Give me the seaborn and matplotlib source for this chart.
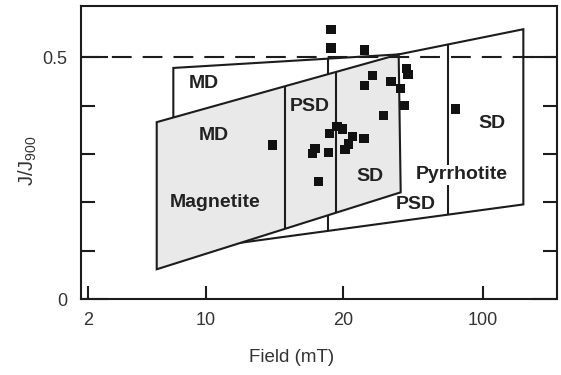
import numpy as np
import pandas as pd
import matplotlib
matplotlib.use("Agg")
import matplotlib.pyplot as plt
from matplotlib.patches import Polygon
import seaborn as sns

# ---------------- data ----------------
field_mT = [18.83, 18.83, 25.63, 41.52, 42.34, 28.17, 25.63, 34.79, 38.74, 40.53,
            31.91, 19.41, 19.97, 18.67, 22.37, 25.48, 21.26, 20.47, 17.36, 17.12,
            18.61, 17.68, 73.40, 14.02]
j_ratio = [0.557, 0.519, 0.515, 0.477, 0.465, 0.463, 0.441, 0.450, 0.436, 0.401,
           0.379, 0.357, 0.352, 0.342, 0.337, 0.333, 0.321, 0.310, 0.312, 0.302,
           0.304, 0.243, 0.393, 0.319]

# Magnetite domain field (grey quadrilateral) and its MD|PSD, PSD|SD boundaries
mag_field = [5.125, 5.125, 38.0, 38.9]
mag_j = [0.062, 0.366, 0.506, 0.221]
mag_div_field = [14.93, 19.26]
mag_div_j_top = [0.440, 0.469]
mag_div_j_bottom = [0.146, 0.1785]

# Pyrrhotite domain field and its MD|PSD, PSD|SD boundaries
pyr_field = [6.435, 38.0, 160.1, 160.1, 6.435]
pyr_j = [0.478, 0.506, 0.558, 0.196, 0.098]
pyr_div_field = [18.50, 66.78]
pyr_div_j_top = [0.497, 0.526]
pyr_div_j_bottom = [0.1415, 0.175]

region_text = ["MD", "MD", "PSD", "SD", "Magnetite", "SD", "Pyrrhotite", "PSD"]
region_field = [9.80, 10.44, 16.93, 111.2, 10.49, 27.31, 78.66, 46.44]
region_j = [0.446, 0.339, 0.399, 0.364, 0.200, 0.253, 0.257, 0.195]

x_ticks = [2, 10, 20, 100]
x_tick_labels = ["2", "10", "20", "100"]
y_ticks = [0, 0.5]
y_tick_labels = ["0", "0.5"]
y_minor_ticks = [0.1, 0.2, 0.3, 0.4]
j_limit = 0.5

# ---------------- non-uniform field axis of the reference ----------------
_LOG = np.array([-3.0, np.log10(2), 1.0, np.log10(20), 2.0, 4.0])
_POS = np.array([-554.9, 0.0, 117.5, 255.0, 394.5, 793.7])


def _fwd(x):
    x = np.asarray(x, dtype=float)
    with np.errstate(divide="ignore", invalid="ignore"):
        lx = np.log10(np.clip(x, 1e-3, None))
    return np.interp(lx, _LOG, _POS)


def _inv(p):
    return 10 ** np.interp(np.asarray(p, dtype=float), _POS, _LOG)


# ---------------- plot ----------------
sns.set_theme(style="white")
plt.rcParams["font.family"] = ["Liberation Sans", "DejaVu Sans"]

INK = "#1c1c1c"
fig = plt.figure(figsize=(5.61, 3.75), dpi=100)
ax = fig.add_axes([0.1444, 0.2019, 0.8485, 0.7821])
ax.set_xscale("function", functions=(_fwd, _inv))
ax.set_xlim(1.817, 236.1)
ax.set_ylim(0, 0.606)

# pyrrhotite field (underneath)
ax.add_patch(Polygon(np.column_stack([pyr_field, pyr_j]), closed=True,
                     facecolor="white", edgecolor=INK, lw=1.5, zorder=2,
                     joinstyle="miter"))
ax.vlines(pyr_div_field, pyr_div_j_bottom, pyr_div_j_top, colors=INK, lw=1.5, zorder=2.1)

# magnetite field (grey, on top)
ax.add_patch(Polygon(np.column_stack([mag_field, mag_j]), closed=True,
                     facecolor="#e9e9e9", edgecolor=INK, lw=1.5, zorder=3,
                     joinstyle="miter"))
ax.vlines(mag_div_field, mag_div_j_bottom, mag_div_j_top, colors=INK, lw=1.5, zorder=3.1)

# dashed reference line
ax.axhline(j_limit, color=INK, lw=1.5, dashes=(9.5, 5.3), zorder=4)

df = pd.DataFrame({"field": field_mT, "J": j_ratio})
sns.scatterplot(data=df, x="field", y="J", marker="s", s=44, color="#111111",
                edgecolor="none", linewidth=0, ax=ax, zorder=5, legend=False)

for t, fx, fy in zip(region_text, region_field, region_j):
    kw = {}
    if t == "Pyrrhotite":
        kw["bbox"] = dict(facecolor="white", edgecolor="none", pad=1.0)
    ax.text(fx, fy, t, ha="center", va="center", fontsize=14, fontweight="bold",
            color="#222222", zorder=6, **kw)

# axes styling
for sp in ax.spines.values():
    sp.set_linewidth(1.5)
    sp.set_color(INK)
    sp.set_visible(True)

ax.set_xticks(x_ticks)
ax.set_xticklabels(x_tick_labels)
ax.xaxis.set_minor_locator(matplotlib.ticker.NullLocator())
ax.set_yticks(y_ticks)
ax.set_yticklabels(y_tick_labels)
ax.set_yticks(y_minor_ticks, minor=True)

ax.tick_params(axis="x", which="major", direction="in", length=9.4, width=1.5,
               bottom=True, top=False, pad=9, labelsize=13, labelcolor="#333333",
               color=INK)
ax.tick_params(axis="y", which="major", direction="in", length=19.5, width=1.5,
               left=True, right=True, pad=10, labelsize=13, labelcolor="#333333",
               color=INK)
ax.tick_params(axis="y", which="minor", direction="in", length=10, width=1.5,
               left=True, right=True, color=INK)

ax.set_xlabel("Field (mT)", fontsize=13.5, color="#333333")
ax.xaxis.set_label_coords(0.4426, -0.17)
ax.set_ylabel(r"$\mathregular{J/J_{900}}$", fontsize=14.5, color="#333333")
ax.yaxis.set_label_coords(-0.088, 0.4715)

fig.savefig("out.png", dpi=100)
